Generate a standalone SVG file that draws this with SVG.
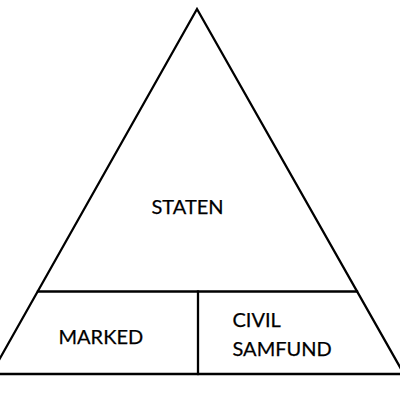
<svg xmlns="http://www.w3.org/2000/svg" width="400" height="400" viewBox="0 0 400 400">
<style>
.ln{stroke:#000;stroke-width:2.3;fill:none;stroke-linecap:square}
.t{font-family:Lato,"Liberation Sans",sans-serif;font-size:20px;fill:#000;stroke:#000;stroke-width:0.25}
</style>
<rect width="400" height="400" fill="#fff"/>
<g id="triangle">
<polyline class="ln" points="-10,376 197,9 405,376"/>
<line class="ln" x1="0" y1="374" x2="400" y2="374"/>
</g>
<g id="divisions">
<line class="ln" x1="38" y1="291.5" x2="357" y2="291.5"/>
<line class="ln" x1="198" y1="291.5" x2="198" y2="374"/>
</g>
<g id="staten"><text class="t" x="151.5" y="214">STATEN</text></g>
<g id="marked"><text class="t" x="58.5" y="344">MARKED</text></g>
<g id="civil-samfund"><text class="t" x="232.5" y="327.3">CIVIL</text><text class="t" x="232.5" y="355.7">SAMFUND</text></g>
</svg>
